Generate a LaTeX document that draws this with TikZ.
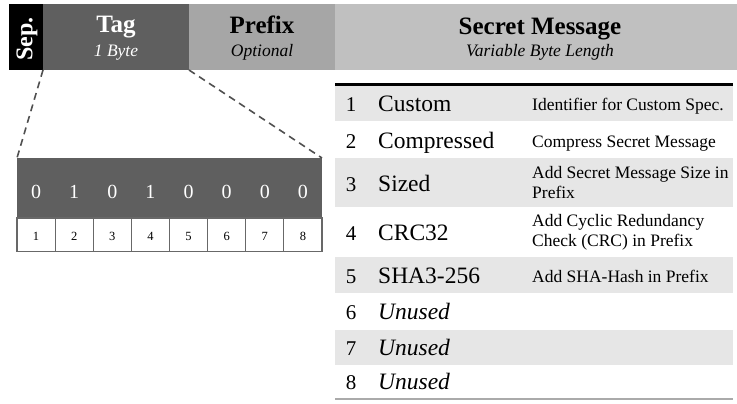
\documentclass[tikz,border=0pt]{standalone}
\usepackage{fontspec}
\setmainfont{Liberation Serif}
\definecolor{tagc}{HTML}{5F5F5F}
\definecolor{prefc}{HTML}{A6A6A6}
\definecolor{secc}{HTML}{C0C0C0}
\definecolor{rowc}{HTML}{E6E6E6}
\definecolor{cellline}{HTML}{686868}
\definecolor{dashc}{HTML}{505050}
\definecolor{botline}{HTML}{AAAAAA}
\begin{document}
\begin{tikzpicture}[x=1pt,y=-1pt,
  blk/.style={anchor=north west, inner sep=0pt, outer sep=0pt, draw=none},
  htitle/.style={anchor=base, inner sep=0pt, font=\fontsize{25}{28}\selectfont\bfseries},
  hsub/.style={anchor=base, inner sep=0pt, font=\fontsize{17.5}{20}\selectfont\itshape},
  bitcell/.style={blk, fill=tagc, minimum width=38.125pt, minimum height=60pt},
  numcell/.style={blk, fill=white, draw=cellline, line width=1.2pt, minimum width=38.125pt, minimum height=33.5pt},
  bittxt/.style={anchor=base, inner sep=0pt, text=white, font=\fontsize{20}{24}\selectfont},
  numtxt/.style={anchor=base, inner sep=0pt, font=\fontsize{12.5}{15}\selectfont},
  rowbox/.style={blk, minimum width=398pt},
  idxtxt/.style={anchor=base, inner sep=0pt, font=\fontsize{21}{24}\selectfont},
  itemtxt/.style={anchor=base west, inner sep=0pt, font=\fontsize{23.5}{28}\selectfont},
  itemital/.style={itemtxt, font=\fontsize{23.5}{28}\selectfont\itshape},
  desctxt/.style={anchor=base west, inner sep=0pt, font=\fontsize{17.5}{20}\selectfont},
  desctwo/.style={anchor=west, inner sep=0pt, align=left, font=\fontsize{17.5}{20}\selectfont},
  zoomline/.style={draw=dashc, line width=1.6pt, dash pattern=on 7pt off 5pt}
]
\useasboundingbox (0,0) rectangle (737,404);

% header band
\node[blk, fill=black, minimum width=34pt, minimum height=66pt] (sep) at (9,4) {};
\node[blk, fill=tagc, minimum width=146pt, minimum height=66pt] (tag) at (43,4) {};
\node[blk, fill=prefc, minimum width=146pt, minimum height=66pt] (prefix) at (189,4) {};
\node[blk, fill=secc, minimum width=402pt, minimum height=66pt] (secret) at (335,4) {};

\node[inner sep=0pt, text=white, rotate=90, font=\fontsize{24}{28}\selectfont\bfseries] (septxt) at (27,39) {Sep.};
\node[htitle, text=white] (tagtxt) at (116,33) {Tag};
\node[hsub, text=white] (tagsub) at (116,57) {1 Byte};
\node[htitle] (preftxt) at (262,34) {Prefix};
\node[hsub] (prefsub) at (262,57) {Optional};
\node[htitle] (sectxt) at (540,35) {Secret Message};
\node[hsub] (secsub) at (540,57) {Variable Byte Length};

% bit box
\foreach \i/\b in {1/0,2/1,3/0,4/1,5/0,6/0,7/0,8/0} {
  \node[bitcell] (b\i) at ({17+38.125*(\i-1)},158) {};
  \node[numcell] (n\i) at ({17+38.125*(\i-1)},218) {};
  \node[bittxt] (bt\i) at ({17+38.125*(\i-0.5)},198) {\b};
  \node[numtxt] (nt\i) at ({17+38.125*(\i-0.5)},240) {\i};
}

% zoom connectors
\draw[zoomline] (tag.south west) -- (b1.north west);
\draw[zoomline] (tag.south east) -- (b8.north east);

% table rows
\node[rowbox, fill=rowc, minimum height=35pt] (r1) at (335,86) {};
\node[rowbox, fill=white, minimum height=36.5pt] (r2) at (335,121) {};
\node[rowbox, fill=rowc, minimum height=49.5pt] (r3) at (335,157.5) {};
\node[rowbox, fill=white, minimum height=50pt] (r4) at (335,207) {};
\node[rowbox, fill=rowc, minimum height=36pt] (r5) at (335,257) {};
\node[rowbox, fill=white, minimum height=36.5pt] (r6) at (335,293) {};
\node[rowbox, fill=rowc, minimum height=35.5pt] (r7) at (335,329.5) {};
\node[rowbox, fill=white, minimum height=34pt] (r8) at (335,365) {};

\coordinate (thl) at (335,84.3);
\coordinate (thr) at (733,84.3);
\draw[line width=3.4pt, black] (thl) -- (thr);
\draw[botline, line width=1.5pt] (r8.south west) -- (r8.south east);

% row texts
\node[idxtxt] (i1) at (351,111.5) {1};
\node[itemtxt] (m1) at (378,111.5) {Custom};
\node[desctxt] (d1) at (532,110.5) {Identifier for Custom Spec.};

\node[idxtxt] (i2) at (351,148.5) {2};
\node[itemtxt] (m2) at (378,148.5) {Compressed};
\node[desctxt] (d2) at (532,147.5) {Compress Secret Message};

\node[idxtxt] (i3) at (351,191) {3};
\node[itemtxt] (m3) at (378,191) {Sized};
\node[desctwo] (d3) at (532,182.25) {Add Secret Message Size in\\Prefix};

\node[idxtxt] (i4) at (351,240) {4};
\node[itemtxt] (m4) at (378,240) {CRC32};
\node[desctwo] (d4) at (532,232) {Add Cyclic Redundancy\\Check (CRC) in Prefix};

\node[idxtxt] (i5) at (351,283) {5};
\node[itemtxt] (m5) at (378,283) {SHA3-256};
\node[desctxt] (d5) at (532,282) {Add SHA-Hash in Prefix};

\node[idxtxt] (i6) at (351,319.5) {6};
\node[itemital] (m6) at (378,319.5) {Unused};

\node[idxtxt] (i7) at (351,355) {7};
\node[itemital] (m7) at (378,355) {Unused};

\node[idxtxt] (i8) at (351,389) {8};
\node[itemital] (m8) at (378,389) {Unused};
\end{tikzpicture}
\end{document}
